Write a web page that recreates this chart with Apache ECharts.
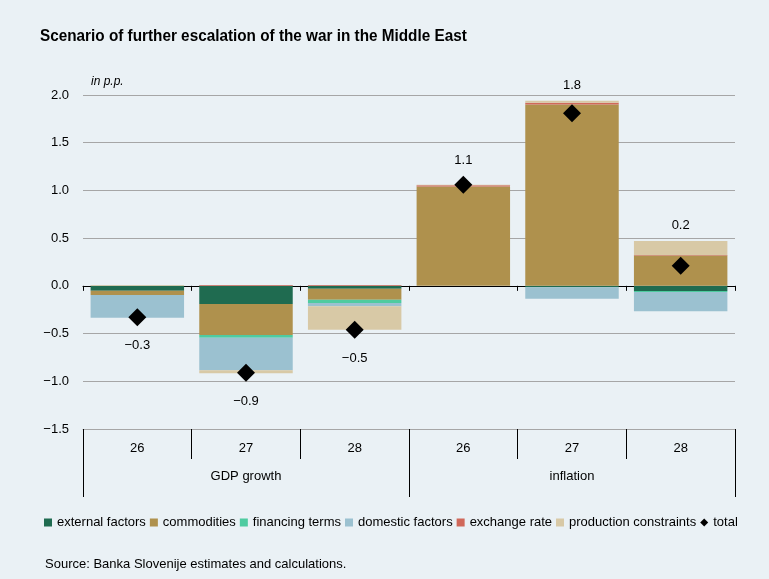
<!DOCTYPE html>
<html>
<head>
<meta charset="utf-8">
<script src="https://cdn.jsdelivr.net/npm/echarts@6/dist/echarts.min.js"></script>
<style>
  html, body { margin:0; padding:0; background:#EAF1F5; }
  #main { width:769px; height:579px; }
</style>
</head>
<body>
<div id="main"></div>
<script>
// data, in p.p.
var years = ["26", "27", "28", "26", "27", "28"];
var groups = ["GDP growth", "inflation"];
var externalFactors   = [-0.05, -0.19, -0.03, 0,     -0.015, -0.055];
var commodities       = [-0.045, -0.325, -0.115, 1.04, 1.90,  0.317];
var financingTerms    = [0,     -0.03, -0.035, 0,     0,     -0.01];
var domesticFactors   = [-0.24, -0.34, -0.035, 0,     -0.12, -0.2];
var exchangeRate      = [0,      0.01,  0.01,  0.015, 0.02,   0.007];
var productionConstr  = [0.01,  -0.03, -0.245, 0.005, 0.02,   0.146];
var total             = [-0.33, -0.91, -0.46,  1.06,  1.81,   0.21];

var font = "'Liberation Sans', Arial, sans-serif";
var textColor = "#000";

var gridTop = 95, gridBottom = 150, yMin = -1.5, yMax = 2.0;
var pxPerUnit = (579 - gridTop - gridBottom) / (yMax - yMin);

var parts = [
  {name:"external factors", data:externalFactors, color:"#1F6B50"},
  {name:"commodities", data:commodities, color:"#AF914D"},
  {name:"financing terms", data:financingTerms, color:"#4FCBA0"},
  {name:"domestic factors", data:domesticFactors, color:"#9BC1D0"},
  {name:"exchange rate", data:exchangeRate, color:"#D0685A"},
  {name:"production constraints", data:productionConstr, color:"#D8C9A6"}
];

function barSeries(){
  var rData = [];
  for(var i = 0 , l = parts.length ; i < l ; i++){
    rData.push({
      name: parts[i].name,
      type: "bar",
      stack: "all",
      xAxisIndex: 0,
      barWidth: "86%",
      itemStyle: {color: parts[i].color},
      emphasis: {disabled: true},
      data: parts[i].data
    });
  }
  return rData;
}

// labels sit above (or below) whichever is further out: the diamond or the bar
function totalData(){
  var rData = [];
  for(var i = 0 ; i < total.length ; i++){
    var pos = 0, neg = 0;
    for(var k = 0 ; k < parts.length ; k++){
      var v = parts[k].data[i];
      if(v > 0) pos += v; else neg += v;
    }
    var up = total[i] >= 0;
    var extra = up ? (pos - total[i]) * pxPerUnit : (total[i] - neg) * pxPerUnit;
    var dist = Math.max(9, extra);
    rData.push({
      value: total[i],
      label: {position: up ? "top" : "bottom", distance: up ? dist : dist + 4}
    });
  }
  return rData;
}

var series = barSeries();
series.push({
  name: "total",
  type: "scatter",
  xAxisIndex: 0,
  symbol: "diamond",
  symbolSize: 18,
  itemStyle: {color: "#000", opacity: 1},
  emphasis: {disabled: true},
  z: 5,
  label: {
    show: true,
    fontFamily: font,
    fontSize: 13,
    color: textColor,
    formatter: function(p){ return p.value.toFixed(1).replace("-", "\u2212"); }
  },
  data: totalData()
});

var chart = echarts.init(document.getElementById("main"));
chart.setOption({
  backgroundColor: "#EAF1F5",
  animation: false,
  textStyle: {fontFamily: font, color: textColor},
  title: [
    {text: "Source: Banka Slovenije estimates and calculations.", left: 40, top: 553,
     textStyle: {fontFamily: font, fontSize: 13, fontWeight: "normal", color: textColor}}
  ],
  graphic: [
    // narrow bold title: Arial-like bold squeezed sideways
    {type: "text", left: 40, top: 28, scaleX: 0.9,
     style: {text: "Scenario of further escalation of the war in the Middle East",
             font: "bold 17px " + font, fill: "#000"}},
    {type: "text", left: 91, top: 76,
     style: {text: "in p.p.", font: "italic 12px " + font, fill: textColor}}
  ],
  legend: {
    left: 39, top: 511,
    itemWidth: 8, itemHeight: 8, itemGap: 4,
    textStyle: {fontFamily: font, fontSize: 13, color: textColor},
    data: [
      {name: "external factors", icon: "rect"},
      {name: "commodities", icon: "rect"},
      {name: "financing terms", icon: "rect"},
      {name: "domestic factors", icon: "rect"},
      {name: "exchange rate", icon: "rect"},
      {name: "production constraints", icon: "rect"},
      {name: "total", icon: "diamond"}
    ]
  },
  grid: {left: 83, right: 34, top: gridTop, bottom: gridBottom},
  xAxis: [
    {
      type: "category", data: years,
      axisLine: {onZero: true, lineStyle: {color: "#000", width: 1}},
      axisTick: {show: true, length: 5, lineStyle: {color: "#000"}},
      axisLabel: {show: false}
    },
    {
      type: "category", data: years, position: "bottom",
      axisLine: {onZero: false, lineStyle: {color: "#A6A6A6"}},
      axisTick: {show: true, length: 30, lineStyle: {color: "#000"}},
      axisLabel: {margin: 13, fontSize: 13, color: textColor, fontFamily: font}
    },
    {
      type: "category", data: groups, position: "bottom",
      axisLine: {show: false, onZero: false},
      axisTick: {show: true, length: 68, lineStyle: {color: "#000"}},
      axisLabel: {margin: 41, fontSize: 13, color: textColor, fontFamily: font}
    }
  ],
  yAxis: {
    type: "value", min: yMin, max: yMax, interval: 0.5,
    axisLine: {show: false},
    axisTick: {show: false},
    splitLine: {lineStyle: {color: "#A6A6A6"}},
    axisLabel: {
      margin: 14, fontSize: 13, color: textColor, fontFamily: font,
      formatter: function(v){ return v.toFixed(1).replace("-", "\u2212"); }
    }
  },
  series: series
});
</script>
</body>
</html>
